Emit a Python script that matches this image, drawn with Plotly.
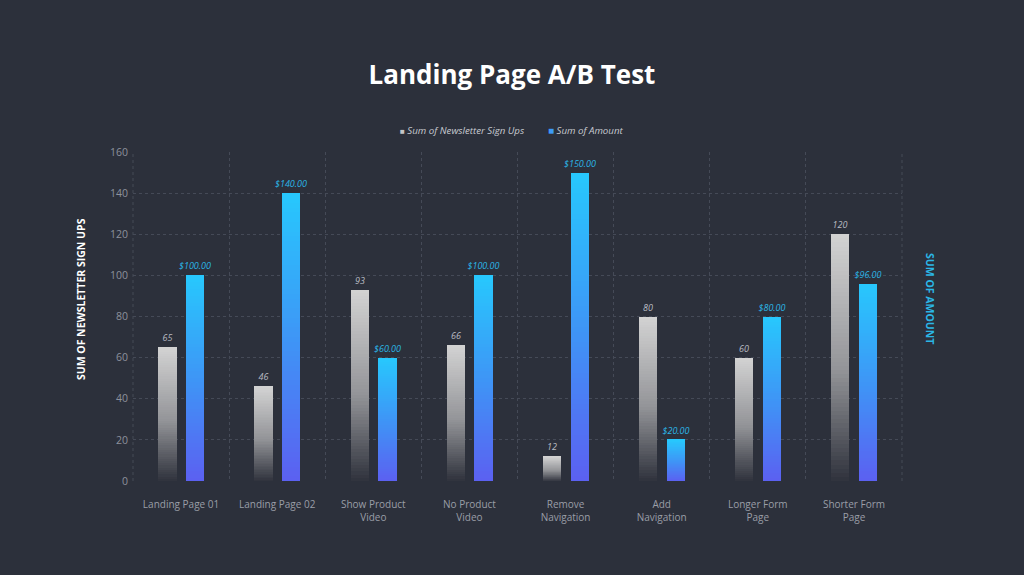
import plotly.graph_objects as go

categories = ["Landing Page 01", "Landing Page 02", "Show Product<br>Video", "No Product<br>Video",
              "Remove<br>Navigation", "Add<br>Navigation", "Longer Form<br>Page", "Shorter Form<br>Page"]
signups = [65, 46, 93, 66, 12, 80, 60, 120]
amount = [100, 140, 60, 100, 150, 20, 80, 96]
y_ticks = [0, 20, 40, 60, 80, 100, 120, 140, 160]

BG = "#2c303b"
FONT = "Open Sans"
N = 60
BAR_W = 0.19
GRAY_OFF = -0.237
BLUE_OFF = 0.052


def hex2rgb(h):
    h = h.lstrip("#")
    return tuple(int(h[i:i + 2], 16) for i in (0, 2, 4))


def interp(stops, t):
    for (p0, c0), (p1, c1) in zip(stops[:-1], stops[1:]):
        if p0 <= t <= p1:
            f = (t - p0) / (p1 - p0) if p1 > p0 else 0
            a, b = hex2rgb(c0), hex2rgb(c1)
            return "rgb(%d,%d,%d)" % tuple(round(a[i] + (b[i] - a[i]) * f) for i in range(3))
    return stops[-1][1]


gray_stops = [(0.0, "#2f323c"), (0.45, "#939498"), (1.0, "#d3d3d3")]
blue_stops = [(0.0, "#5b60f1"), (0.5, "#3e96f6"), (1.0, "#27c8fd")]

fig = go.Figure()


def add_gradient(values, stops, offset):
    for k in range(N):
        t = (k + 0.5) / N
        h = [v / N * (1.0 if k == N - 1 else 1.03) for v in values]
        fig.add_trace(go.Bar(
            x=categories, y=h, base=[v * k / N for v in values],
            width=BAR_W, offset=offset,
            marker=dict(color=interp(stops, t), line=dict(width=0)),
            showlegend=False, hoverinfo="skip",
        ))


add_gradient(signups, gray_stops, GRAY_OFF)
add_gradient(amount, blue_stops, BLUE_OFF)

# legend entries (symbol drawn inside the label text so it sits close to it)
fig.add_trace(go.Scatter(x=[None], y=[None], mode="markers",
                         name="<span style='color:#c4c5c8;font-size:8px;font-style:normal'>■</span> Sum of Newsletter Sign Ups",
                         marker=dict(symbol="square", size=1, color="rgba(0,0,0,0)", line=dict(width=0))))
fig.add_trace(go.Scatter(x=[None], y=[None], mode="markers",
                         name="<span style='color:#3d9af6;font-size:10px;font-style:normal'>■</span> Sum of Amount",
                         marker=dict(symbol="square", size=1, color="rgba(0,0,0,0)", line=dict(width=0))))

# label carriers
fig.add_trace(go.Bar(
    x=categories, y=signups, width=BAR_W, offset=GRAY_OFF,
    marker=dict(color="rgba(0,0,0,0)", line=dict(width=0)),
    text=[str(v) for v in signups], textposition="outside", cliponaxis=False, constraintext="none",
    outsidetextfont=dict(family=FONT, size=9, color="#b8bbc2", style="italic"),
    showlegend=False, hoverinfo="skip",
))
fig.add_trace(go.Bar(
    x=categories, y=amount, width=BAR_W, offset=BLUE_OFF,
    marker=dict(color="rgba(0,0,0,0)", line=dict(width=0)),
    text=["$%.2f" % v for v in amount], textposition="outside", cliponaxis=False, constraintext="none",
    outsidetextfont=dict(family=FONT, size=9, color="#2bb6e6", style="italic"),
    showlegend=False, hoverinfo="skip",
))

GRID = "#454a57"
DASH = "3px,3px"

fig.update_layout(
    width=1024, height=575,
    paper_bgcolor=BG, plot_bgcolor=BG,
    barmode="overlay", bargap=0,
    margin=dict(l=133, r=122, t=152, b=94),
    font=dict(family=FONT, color="#9a9ea7", size=10),
    title=dict(text="<b>Landing Page A/B Test</b>", x=0.5, xanchor="center", y=0.8696, yanchor="middle",
               font=dict(family=FONT, size=26, color="#ffffff")),
    legend=dict(orientation="h", x=(360 - 133) / 769, xanchor="left", y=1.067, yanchor="middle",
                font=dict(family=FONT, size=9.7, color="#c8cbd1", style="italic"),
                itemwidth=30, entrywidth=103, entrywidthmode="pixels", bgcolor="rgba(0,0,0,0)"),
    xaxis=dict(range=[-0.5, 7.5], tickson="boundaries", showgrid=True, griddash=DASH,
               gridcolor=GRID, gridwidth=1, ticks="", showline=False, zeroline=False,
               tickfont=dict(family=FONT, size=10, color="#9a9ea7"), ticklabelstandoff=16),
    yaxis=dict(range=[0, 160], tickvals=y_ticks, showgrid=True, griddash=DASH,
               gridcolor=GRID, gridwidth=1, zeroline=False, showline=False,
               tickfont=dict(family=FONT, size=10.5, color="#8d919b"), ticklabelstandoff=4),
    shapes=[
        dict(type="line", xref="x domain", yref="y domain", x0=0, x1=0, y0=0, y1=1,
             line=dict(color=GRID, width=1, dash=DASH), layer="below"),
        dict(type="line", xref="x domain", yref="y domain", x0=1, x1=1, y0=0, y1=1,
             line=dict(color=GRID, width=1, dash=DASH), layer="below"),
    ],
    annotations=[
        dict(text="<b>SUM OF NEWSLETTER SIGN UPS</b>", textangle=-90, xref="paper", yref="paper",
             x=-0.0676, y=0.553, xanchor="center", yanchor="middle", showarrow=False,
             font=dict(family=FONT, size=10.5, color="#ffffff")),
        dict(text="<b>SUM OF AMOUNT</b>", textangle=90, xref="paper", yref="paper",
             x=1.0364, y=0.553, xanchor="center", yanchor="middle", showarrow=False,
             font=dict(family=FONT, size=10.5, color="#2bb6e6")),
    ],
)

fig.write_html("out.html", config={"displayModeBar": False},
               post_script="document.body.style.margin='0';document.body.style.background='%s';" % BG)
